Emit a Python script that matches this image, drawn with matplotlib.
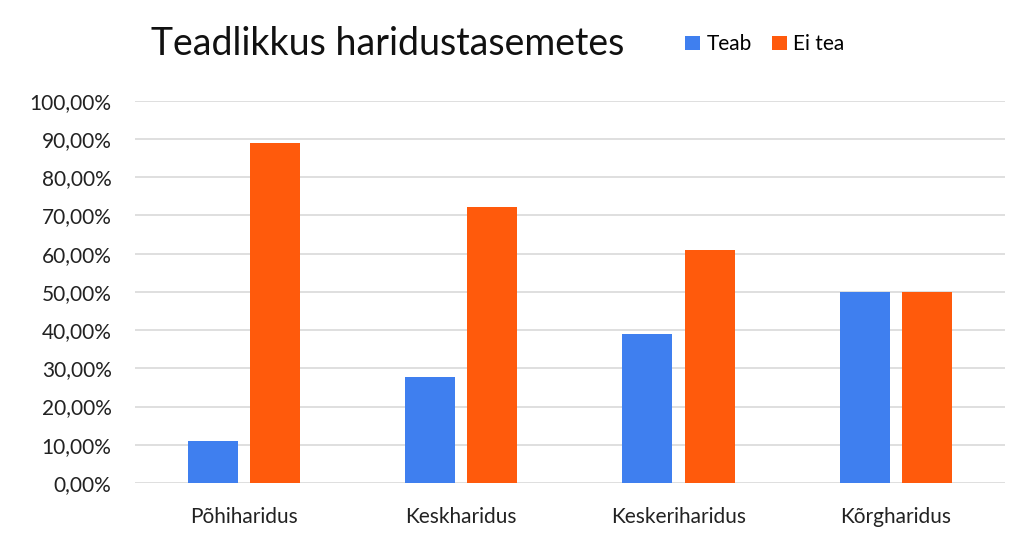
import numpy as np
import matplotlib.pyplot as plt
from matplotlib.ticker import FuncFormatter

categories = ['Põhiharidus', 'Keskharidus', 'Keskeriharidus', 'Kõrgharidus']
teab = [11.1, 27.8, 39.1, 50.0]
ei_tea = [88.9, 72.2, 60.9, 50.0]

plt.rcParams['font.family'] = ['Lato', 'DejaVu Sans']

fig = plt.figure(figsize=(10.24, 5.39), dpi=100)
ax = fig.add_axes([0.132, 0.104, 0.849, 0.709])

x = np.arange(len(categories))
w = 0.23
ax.bar(x - w / 2 - 0.028, teab, w, color='#3F7FEF', label='Teab', zorder=3)
ax.bar(x + w / 2 + 0.028, ei_tea, w, color='#FF5A0C', label='Ei tea', zorder=3)

ax.set_xlim(-0.5, 3.5)
ax.set_ylim(0, 100)
ax.set_yticks(np.arange(0, 101, 10))
ax.yaxis.set_major_formatter(FuncFormatter(lambda v, p: f'{v:.2f}%'.replace('.', ',')))
ax.set_xticks(x)
ax.set_xticklabels(categories)
ax.tick_params(axis='both', length=0, labelsize=15, colors='#222222')
ax.tick_params(axis='x', pad=17)
ax.tick_params(axis='y', pad=17)
ax.grid(axis='y', color='#D9D9D9', linewidth=1.2, zorder=0)
for s in ax.spines.values():
    s.set_visible(False)

fig.text(0.147, 0.918, 'Teadlikkus haridustasemetes', fontsize=27, color='#111111', va='center')
ax.legend(loc='center', bbox_to_anchor=(0.747, 0.918), bbox_transform=fig.transFigure,
          ncol=2, frameon=False, fontsize=15, handlelength=0.7, handleheight=0.7,
          handletextpad=0.3, columnspacing=1.0)

fig.savefig('out.png', dpi=100)
